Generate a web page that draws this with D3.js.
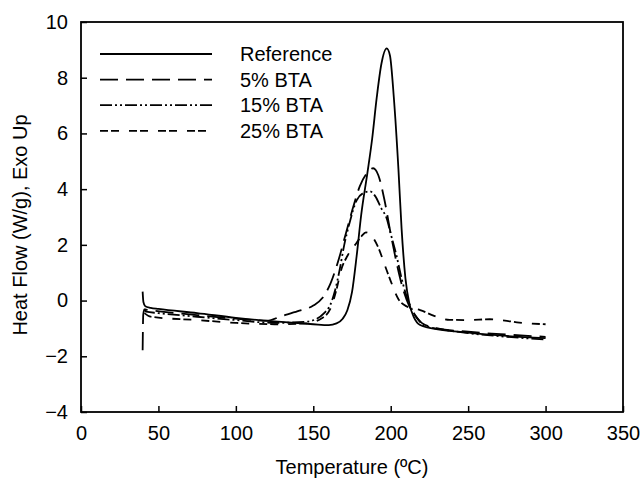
<!DOCTYPE html>
<html>
<head>
<meta charset="utf-8">
<script src="https://cdn.jsdelivr.net/npm/d3@7"></script>
<style>
  body { margin: 0; background: #fff; }
  text { font-family: "Liberation Sans", Arial, sans-serif; fill: #000; }
</style>
</head>
<body>
<svg id="chart"></svg>
<script>
const WIDTH = 644;
const HEIGHT = 485;
const margin = { top: 22, right: 21, bottom: 73, left: 81 };

const xTicks = [0, 50, 100, 150, 200, 250, 300, 350];
const yTicks = [-4, -2, 0, 2, 4, 6, 8, 10];
const seriesNames = ["Reference", "5% BTA", "15% BTA", "25% BTA"];

// [temperature, heat flow]
const refData = [
  [39.8, 0.32], [40.3, -0.05], [41.5, -0.2], [45, -0.26], [50, -0.3], [75, -0.45],
  [100, -0.62], [125, -0.75], [150, -0.85], [160, -0.88], [165, -0.82], [169, -0.65],
  [172, -0.35], [175, 0.3], [178, 1.6], [181, 3.1], [185, 4.6], [188, 5.8], [191, 7.3],
  [194, 8.5], [197.4, 9.05], [199.5, 8.8], [202, 7.3], [205, 4.7], [207, 2.6],
  [209.5, 0.8], [212, -0.1], [215, -0.6], [219, -0.88], [225, -0.98], [250, -1.15],
  [275, -1.27], [300, -1.35]
];
const bta5Data = [
  [39.8, -1.78], [40.2, -0.5], [41, -0.32], [45, -0.35], [75, -0.52], [100, -0.65],
  [120, -0.72], [130, -0.55], [140, -0.38], [150, -0.18], [156, 0.1], [161, 0.6],
  [166, 1.4], [171, 2.4], [176, 3.4], [180, 4.1], [185, 4.6], [188.7, 4.75],
  [192, 4.5], [196, 3.6], [200, 2.4], [204, 1.3], [208, 0.4], [212, -0.2],
  [216, -0.55], [220, -0.8], [230, -1.0], [250, -1.12], [275, -1.22], [300, -1.3]
];
const bta15Data = [
  [41, -0.3], [42, -0.4], [50, -0.45], [75, -0.58], [100, -0.7], [125, -0.8],
  [145, -0.76], [152, -0.66], [157, -0.45], [161, -0.15], [164, 0.35], [167, 1.1],
  [170, 2.0], [173, 2.7], [178, 3.6], [182, 3.85], [186.6, 3.92], [190, 3.75],
  [194, 3.3], [197.4, 2.95], [200, 2.4], [203.8, 1.6], [207, 0.8], [210, 0.2],
  [214, -0.35], [218, -0.7], [222, -0.9], [235, -1.05], [250, -1.17], [275, -1.3],
  [300, -1.4]
];
const bta25Data = [
  [41, -0.45], [45, -0.58], [75, -0.7], [100, -0.8], [125, -0.85], [145, -0.82],
  [155, -0.65], [161, -0.3], [165, 0.4], [168, 1.1], [172, 1.6], [177, 2.0],
  [181, 2.3], [184, 2.45], [188, 2.3], [192, 1.9], [196, 1.3], [200, 0.7],
  [205, 0.05], [210, -0.2], [215, -0.28], [219, -0.34], [228, -0.55], [238, -0.69],
  [250, -0.7], [264, -0.67], [275, -0.73], [283, -0.79], [300, -0.85]
];

const series = [
  { name: seriesNames[0], values: refData, dash: null },
  { name: seriesNames[1], values: bta5Data, dash: "18,8" },
  { name: seriesNames[2], values: bta15Data, dash: "12,3,2,3,2,3" },
  { name: seriesNames[3], values: bta25Data, dash: "8,3,8,10" }
];

const w = WIDTH - margin.left - margin.right;
const h = HEIGHT - margin.top - margin.bottom;

const svg = d3.select("#chart").attr("width", WIDTH).attr("height", HEIGHT);
const g = svg.append("g").attr("transform", `translate(${margin.left},${margin.top})`);

const x = d3.scaleLinear().domain([0, 350]).range([0, w]);
const y = d3.scaleLinear().domain([-4, 10]).range([h, 0]);

// axes, ticks pointing inward
const xAxis = g.append("g")
  .attr("transform", `translate(0,${h})`)
  .call(d3.axisBottom(x).tickValues(xTicks).tickSizeInner(-6).tickSizeOuter(0).tickPadding(14));
const yAxis = g.append("g")
  .call(d3.axisLeft(y).tickValues(yTicks).tickSizeInner(-6).tickSizeOuter(0).tickPadding(13));

[xAxis, yAxis].forEach(a => {
  a.select(".domain").remove();
  a.selectAll("line").attr("stroke", "#000").attr("stroke-width", 1.5);
  a.selectAll("text").style("font-size", "20px").attr("fill", "#000");
});

g.append("rect")
  .attr("width", w).attr("height", h)
  .attr("fill", "none").attr("stroke", "#000").attr("stroke-width", 1.8);

const line = d3.line()
  .x(d => x(d[0]))
  .y(d => y(d[1]))
  .curve(d3.curveMonotoneX);

g.selectAll(".series")
  .data(series)
  .enter()
  .append("path")
  .attr("class", "series")
  .attr("d", d => line(d.values))
  .attr("fill", "none")
  .attr("stroke", "#000")
  .attr("stroke-width", 1.8)
  .attr("stroke-dasharray", d => d.dash);

// legend
const legend = g.append("g").attr("transform", "translate(19,32)");
const items = legend.selectAll("g")
  .data(series)
  .enter()
  .append("g")
  .attr("transform", (d, i) => `translate(0,${i * 25.6})`);
items.append("line")
  .attr("x1", 0).attr("x2", 112)
  .attr("stroke", "#000").attr("stroke-width", 1.8)
  .attr("stroke-dasharray", d => d.dash);
items.append("text")
  .attr("x", 140).attr("dy", "0.35em")
  .style("font-size", "20px")
  .text(d => d.name);

svg.append("text")
  .attr("x", margin.left + w / 2).attr("y", 474)
  .attr("text-anchor", "middle")
  .style("font-size", "20px")
  .text("Temperature (ºC)");

svg.append("text")
  .attr("transform", `translate(27,${margin.top + 203}) rotate(-90)`)
  .attr("text-anchor", "middle")
  .style("font-size", "20px")
  .text("Heat Flow (W/g), Exo Up");
</script>
</body>
</html>
